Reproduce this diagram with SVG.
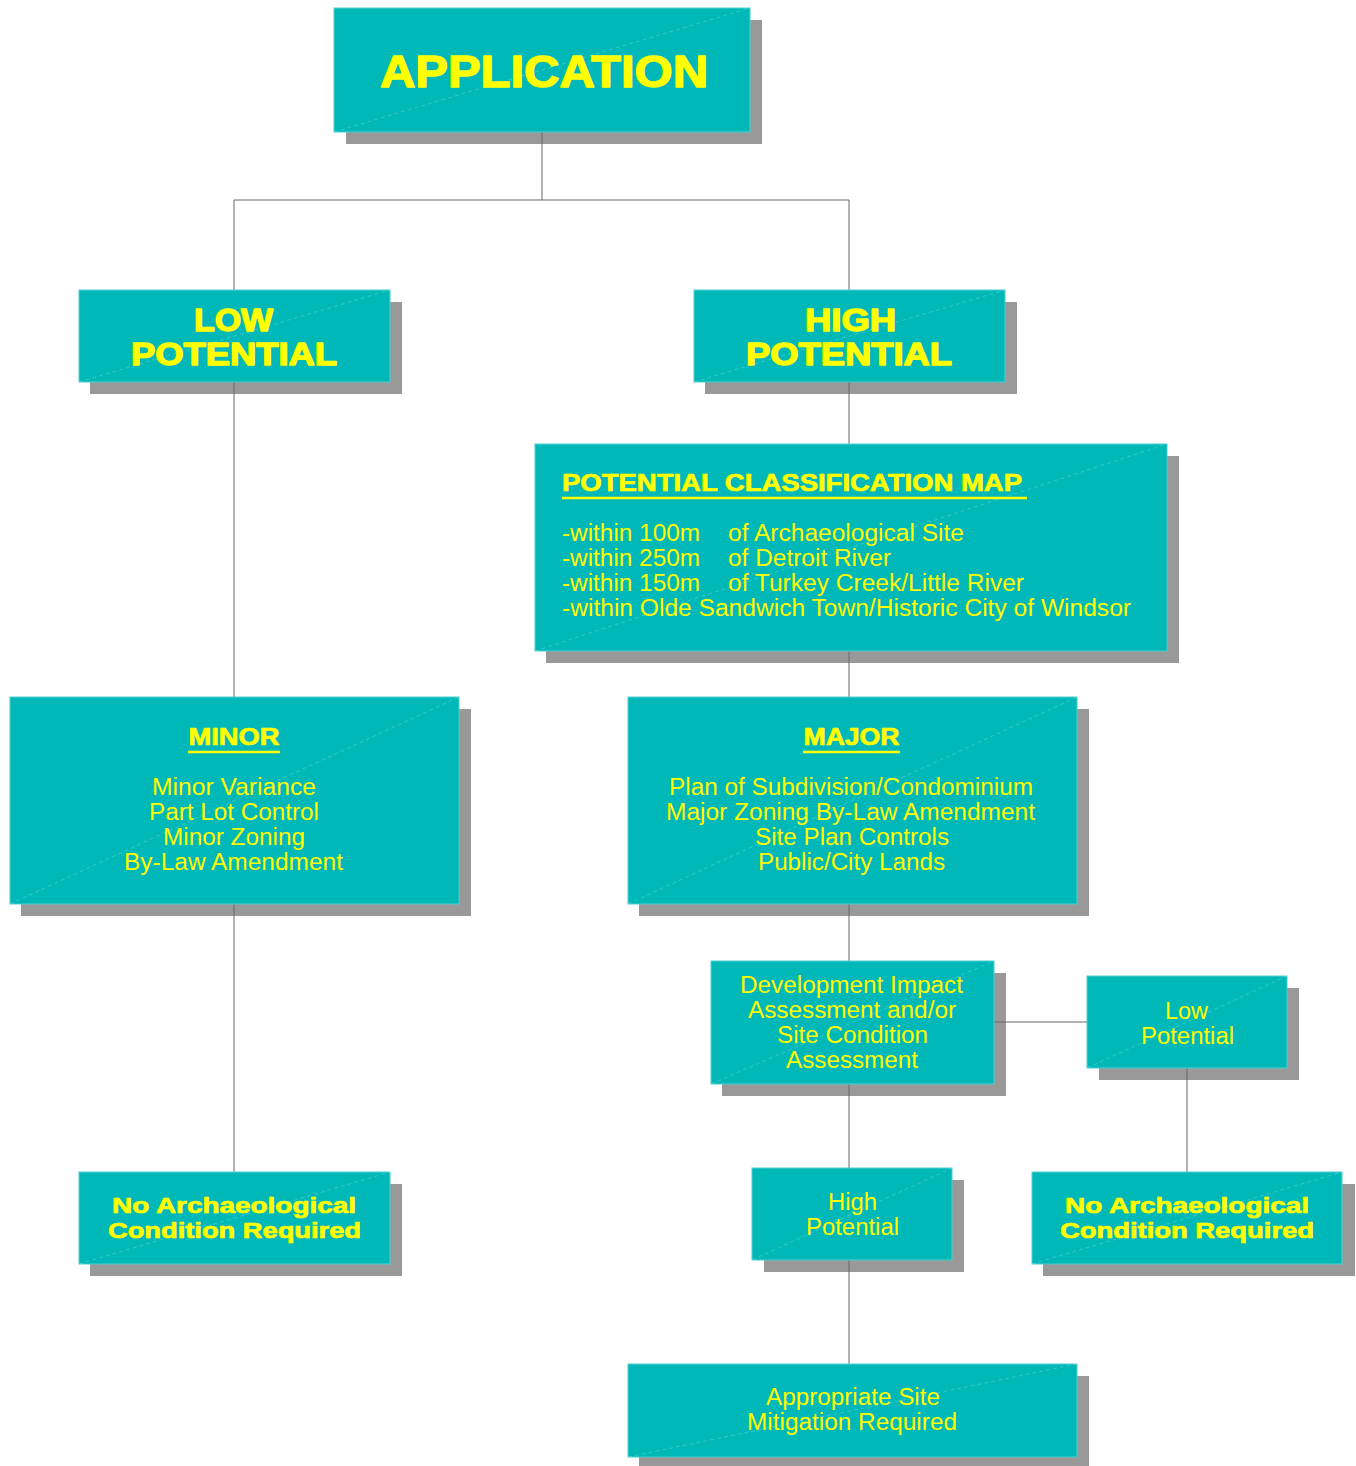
<svg xmlns="http://www.w3.org/2000/svg" width="1356" height="1466" viewBox="0 0 1356 1466">
<style>
.sh{fill:#999999}
.bx{fill:#00B8B8;stroke:#4CCFCF;stroke-width:1}
.dg{stroke:#9EE0E0;stroke-width:0.6;stroke-dasharray:4 3;fill:none;opacity:0.6}
.cn{stroke:#666666;stroke-width:1;fill:none}
text{fill:#FFFF00;font-family:"Liberation Sans",Arial,sans-serif;font-size:23px}
.b{font-weight:bold;stroke:#FFFF00;stroke-width:0.7;stroke-linejoin:round}
.bb{stroke-width:1.4}
.c{text-anchor:middle}
.ul{stroke:#FFFF00;stroke-width:2.5}
</style>
<rect width="1356" height="1466" fill="#FFFFFF"/>
<g id="shadows">
<rect class="sh" x="346" y="20" width="416" height="124"/>
<rect class="sh" x="90" y="302" width="312" height="92"/>
<rect class="sh" x="705" y="302" width="312" height="92"/>
<rect class="sh" x="546" y="456" width="633" height="207"/>
<rect class="sh" x="21" y="709" width="450" height="207"/>
<rect class="sh" x="639" y="709" width="450" height="207"/>
<rect class="sh" x="722" y="973" width="284" height="123"/>
<rect class="sh" x="1099" y="988" width="200" height="92"/>
<rect class="sh" x="764" y="1180" width="200" height="92"/>
<rect class="sh" x="90" y="1184" width="312" height="92"/>
<rect class="sh" x="1043" y="1184" width="312" height="92"/>
<rect class="sh" x="639" y="1376" width="450" height="90"/>
</g>
<g id="connectors">
<path class="cn" d="M542 132V200M234 200H849M234 200V290M849 200V290"/>
<path class="cn" d="M234 382V697M234 904V1172"/>
<path class="cn" d="M849 382V444M849 651V697M849 904V961M849 1084V1168M849 1260V1364"/>
<path class="cn" d="M994 1022H1087M1187 1068V1172"/>
</g>
<g id="application">
<rect class="bx" x="334" y="8" width="416" height="124"/>
<path class="dg" d="M334 132L750 8"/>
<text class="b bb c" x="544" y="87" style="font-size:44px" textLength="328" lengthAdjust="spacingAndGlyphs">APPLICATION</text>
</g>
<g id="low-potential">
<rect class="bx" x="79" y="290" width="311" height="92"/>
<path class="dg" d="M79 382L390 290"/>
<text class="b bb c" x="233.5" y="331" style="font-size:31px" textLength="79" lengthAdjust="spacingAndGlyphs">LOW</text>
<text class="b bb c" x="234" y="365" style="font-size:31px" textLength="206" lengthAdjust="spacingAndGlyphs">POTENTIAL</text>
</g>
<g id="high-potential">
<rect class="bx" x="694" y="290" width="311" height="92"/>
<path class="dg" d="M694 382L1005 290"/>
<text class="b bb c" x="850.5" y="331" style="font-size:31px" textLength="91" lengthAdjust="spacingAndGlyphs">HIGH</text>
<text class="b bb c" x="849" y="365" style="font-size:31px" textLength="206" lengthAdjust="spacingAndGlyphs">POTENTIAL</text>
</g>
<g id="classification-map">
<rect class="bx" x="535" y="444" width="632" height="207"/>
<path class="dg" d="M535 651L1167 444"/>
<text class="b" x="562" y="491" style="font-size:23px" textLength="460" lengthAdjust="spacingAndGlyphs">POTENTIAL CLASSIFICATION MAP</text>
<line class="ul" x1="562" y1="498" x2="1027" y2="498"/>
<text x="562" y="541" textLength="138" lengthAdjust="spacingAndGlyphs">-within 100m</text>
<text x="728" y="541" textLength="236" lengthAdjust="spacingAndGlyphs">of Archaeological Site</text>
<text x="562" y="566" textLength="138" lengthAdjust="spacingAndGlyphs">-within 250m</text>
<text x="728" y="566" textLength="163" lengthAdjust="spacingAndGlyphs">of Detroit River</text>
<text x="562" y="591" textLength="138" lengthAdjust="spacingAndGlyphs">-within 150m</text>
<text x="728" y="591" textLength="296" lengthAdjust="spacingAndGlyphs">of Turkey Creek/Little River</text>
<text x="562" y="616" textLength="569" lengthAdjust="spacingAndGlyphs">-within Olde Sandwich Town/Historic City of Windsor</text>
</g>
<g id="minor">
<rect class="bx" x="10" y="697" width="449" height="207"/>
<path class="dg" d="M10 904L459 697"/>
<text class="b c" x="234" y="745" textLength="91" lengthAdjust="spacingAndGlyphs">MINOR</text>
<line class="ul" x1="188" y1="752" x2="280" y2="752"/>
<text class="c" x="234" y="795" textLength="164" lengthAdjust="spacingAndGlyphs">Minor Variance</text>
<text class="c" x="234" y="820" textLength="170" lengthAdjust="spacingAndGlyphs">Part Lot Control</text>
<text class="c" x="234" y="845" textLength="142" lengthAdjust="spacingAndGlyphs">Minor Zoning</text>
<text class="c" x="233.5" y="870" textLength="219" lengthAdjust="spacingAndGlyphs">By-Law Amendment</text>
</g>
<g id="major">
<rect class="bx" x="628" y="697" width="449" height="207"/>
<path class="dg" d="M628 904L1077 697"/>
<text class="b c" x="851.5" y="745" textLength="96" lengthAdjust="spacingAndGlyphs">MAJOR</text>
<line class="ul" x1="803" y1="752" x2="900" y2="752"/>
<text class="c" x="851" y="795" textLength="364" lengthAdjust="spacingAndGlyphs">Plan of Subdivision/Condominium</text>
<text class="c" x="850.5" y="820" textLength="369" lengthAdjust="spacingAndGlyphs">Major Zoning By-Law Amendment</text>
<text class="c" x="852" y="845" textLength="194" lengthAdjust="spacingAndGlyphs">Site Plan Controls</text>
<text class="c" x="851.5" y="870" textLength="187" lengthAdjust="spacingAndGlyphs">Public/City Lands</text>
</g>
<g id="development-impact">
<rect class="bx" x="711" y="961" width="283" height="123"/>
<path class="dg" d="M711 1084L994 961"/>
<text class="c" x="851.5" y="993" textLength="223" lengthAdjust="spacingAndGlyphs">Development Impact</text>
<text class="c" x="852" y="1018" textLength="208" lengthAdjust="spacingAndGlyphs">Assessment and/or</text>
<text class="c" x="852.5" y="1043" textLength="151" lengthAdjust="spacingAndGlyphs">Site Condition</text>
<text class="c" x="852" y="1068" textLength="132" lengthAdjust="spacingAndGlyphs">Assessment</text>
</g>
<g id="low-potential-2">
<rect class="bx" x="1087" y="976" width="200" height="92"/>
<path class="dg" d="M1087 1068L1287 976"/>
<text class="c" x="1186.5" y="1019" textLength="43" lengthAdjust="spacingAndGlyphs">Low</text>
<text class="c" x="1187.5" y="1044" textLength="93" lengthAdjust="spacingAndGlyphs">Potential</text>
</g>
<g id="high-potential-2">
<rect class="bx" x="752" y="1168" width="200" height="92"/>
<path class="dg" d="M752 1260L952 1168"/>
<text class="c" x="852.5" y="1210" textLength="49" lengthAdjust="spacingAndGlyphs">High</text>
<text class="c" x="852.5" y="1235" textLength="93" lengthAdjust="spacingAndGlyphs">Potential</text>
</g>
<g id="no-arch-left">
<rect class="bx" x="79" y="1172" width="311" height="92"/>
<path class="dg" d="M79 1264L390 1172"/>
<text class="b c" x="234" y="1213" style="font-size:22px" textLength="244" lengthAdjust="spacingAndGlyphs">No Archaeological</text>
<text class="b c" x="234.5" y="1238" style="font-size:22px" textLength="253" lengthAdjust="spacingAndGlyphs">Condition Required</text>
</g>
<g id="no-arch-right">
<rect class="bx" x="1032" y="1172" width="310" height="92"/>
<path class="dg" d="M1032 1264L1342 1172"/>
<text class="b c" x="1187" y="1213" style="font-size:22px" textLength="244" lengthAdjust="spacingAndGlyphs">No Archaeological</text>
<text class="b c" x="1187" y="1238" style="font-size:22px" textLength="254" lengthAdjust="spacingAndGlyphs">Condition Required</text>
</g>
<g id="mitigation">
<rect class="bx" x="628" y="1364" width="449" height="93"/>
<path class="dg" d="M628 1457L1077 1364"/>
<text class="c" x="853" y="1405" textLength="174" lengthAdjust="spacingAndGlyphs">Appropriate Site</text>
<text class="c" x="852" y="1430" textLength="210" lengthAdjust="spacingAndGlyphs">Mitigation Required</text>
</g>
</svg>
